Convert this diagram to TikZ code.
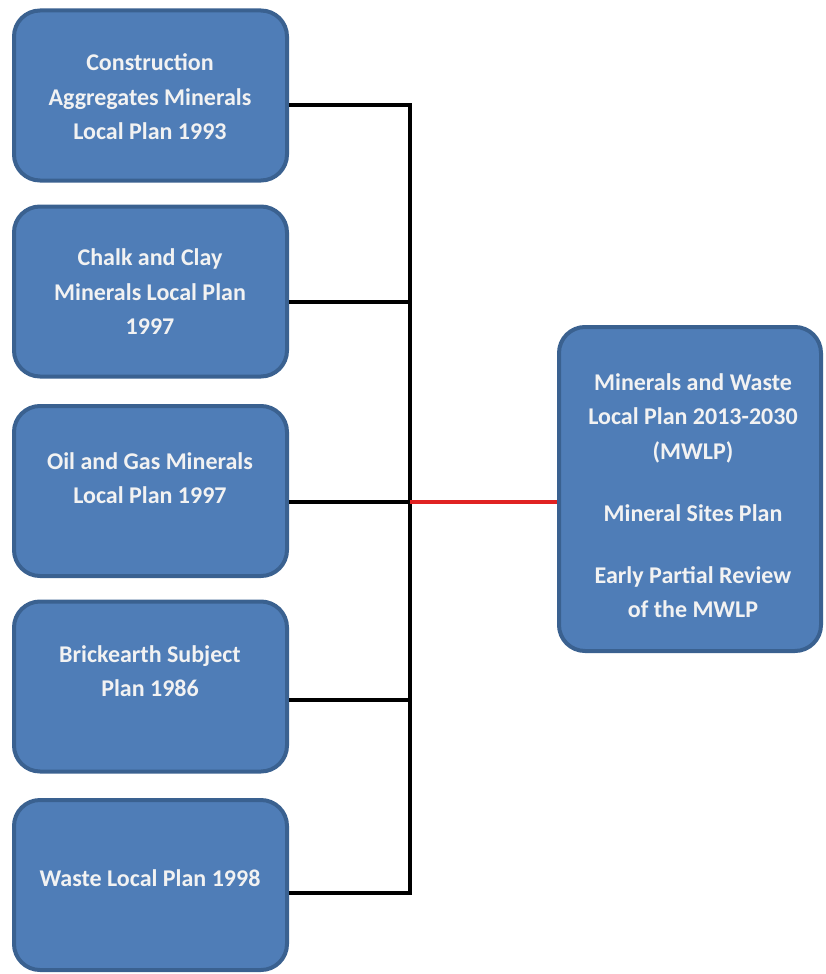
\documentclass[tikz,border=0pt]{standalone}
\usepackage{fontspec}
\setmainfont{Carlito}
\definecolor{boxfill}{HTML}{4F7DB7}
\definecolor{boxline}{HTML}{3A6190}
\definecolor{txt}{HTML}{F2F2F2}
\definecolor{redline}{HTML}{E02222}
\tikzset{
  planbox/.style={draw=boxline, fill=boxfill, line width=4pt, rounded corners=26pt, inner sep=0pt},
  leftbox/.style={planbox, minimum width=273pt, minimum height=170pt},
  label/.style={text=txt, align=center, font=\bfseries\fontsize{24pt}{34.5pt}\selectfont, inner sep=0pt},
  conn/.style={line width=4pt, black},
  redconn/.style={line width=4pt, redline}
}
\begin{document}
\begin{tikzpicture}[x=1pt, y=-1pt]
\useasboundingbox (0,0) rectangle (825,974);
\node[leftbox] (b1) at (150.5,95.5) {};
\node[leftbox] (b2) at (150.5,291.5) {};
\node[leftbox] (b3) at (150.5,491) {};
\node[leftbox] (b4) at (150.5,686.5) {};
\node[leftbox] (b5) at (150.5,885) {};
\node[planbox, minimum width=262pt, minimum height=324pt] (rb) at (690,489) {};

\node[label] (t1) at (150,97) {Construction\\Aggregates Minerals\\Local Plan 1993};
\node[label] (t2) at (150,292) {Chalk and Clay\\Minerals Local Plan\\1997};
\node[label] (t3) at (150,478) {Oil and Gas Minerals\\Local Plan 1997};
\node[label] (t4) at (150,671) {Brickearth Subject\\Plan 1986};
\node[label] (t5) at (150,878) {Waste Local Plan 1998};
\node[label] (tr) at (693,495.5) {Minerals and Waste\\Local Plan 2013-2030\\(MWLP)\\[27.5pt]Mineral Sites Plan\\[27.5pt]Early Partial Review\\of the MWLP};

\coordinate (jn) at (410,502);
\draw[conn] ([yshift=-9.5pt]b1.east) -| (jn);
\draw[conn] ([yshift=-10.5pt]b2.east) -| (jn);
\draw[conn] ([yshift=-11pt]b3.east) -- (jn);
\draw[conn] ([yshift=-13.5pt]b4.east) -| (jn);
\draw[conn] ([yshift=-8pt]b5.east) -| (jn);
\draw[redconn] (jn) -- (jn -| rb.west);
\end{tikzpicture}
\end{document}
